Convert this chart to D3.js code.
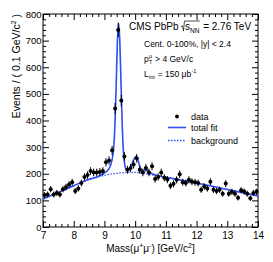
<!DOCTYPE html>
<html><head><meta charset="utf-8">
<script src="https://cdnjs.cloudflare.com/ajax/libs/d3/7.8.5/d3.min.js"></script>
<style>
html,body{margin:0;padding:0;background:#fff;}
svg{display:block;font-family:"Liberation Sans",Arial,Helvetica,sans-serif;}
</style></head>
<body><svg id="c" width="273" height="262"></svg>
<script>
// ---- data ----
const dataMass = [7.05,7.15,7.25,7.35,7.45,7.55,7.65,7.75,7.85,7.95,
  8.05,8.15,8.25,8.35,8.45,8.55,8.65,8.75,8.85,8.95,
  9.05,9.15,9.25,9.35,9.45,9.55,9.65,9.75,9.85,9.95,
  10.05,10.15,10.25,10.35,10.45,10.55,10.65,10.75,10.85,10.95,
  11.05,11.15,11.25,11.35,11.45,11.55,11.65,11.75,11.85,11.95,
  12.05,12.15,12.25,12.35,12.45,12.55,12.65,12.75,12.85,12.95,
  13.05,13.15,13.25,13.35,13.45,13.55,13.65,13.75,13.85,13.95];
const dataCounts = [120,122,142,122,128,122,142,150,160,168,
  135,145,165,188,195,210,205,205,207,210,
  243,250,288,445,740,475,265,215,222,235,
  258,215,205,222,205,228,180,188,205,185,
  178,155,162,177,198,168,165,177,170,168,
  165,140,152,145,170,140,135,140,125,163,
  125,132,125,110,138,133,125,108,128,132];
const fitMass = [7.0,7.5,8.0,8.5,8.8,9.0,9.1,9.2,9.26,9.3,9.34,9.38,9.42,9.46,9.5,9.54,9.58,9.62,9.66,9.7,
  9.76,9.82,9.88,9.94,10.0,10.03,10.06,10.1,10.15,10.2,10.26,10.32,10.36,10.4,10.46,10.55,10.7,11.0,12.0,13.0,14.0];
const fitVals = [105,130,155,179,190,203,212,232,260,295,380,520,690,765,700,540,380,280,235,218,
  213,218,230,250,262,265,262,248,228,215,212,214,216,214,207,200,194,187,165,141,117];
const bgMass = [7.0,7.5,8.0,8.5,9.0,9.5,9.75,10.0,10.25,10.5,11.0,12.0,13.0,14.0];
const bgVals = [105,130,155,178,194,203,205,205,202,197,187,165,141,117];
const xTicks = [7,8,9,10,11,12,13,14];
const yTicks = [0,100,200,300,400,500,600,700,800];

// ---- layout ----
const svg = d3.select("#c");
const L = 43, R = 258, T = 14, B = 227;
const x = d3.scaleLinear().domain([7,14]).range([L,R]);
const y = d3.scaleLinear().domain([0,800]).range([B,T]);
const blue = "#2f4ff0";

// minor ticks
const xMinor = d3.range(7,14.001,0.2).filter(v=>Math.abs(v-Math.round(v))>1e-6);
const yMinor = d3.range(0,800.1,20).filter(v=>v%100!==0);

function axis(gen, tr, vals, size, labels, fs){
  const g = svg.append("g").attr("transform",tr)
    .call(gen.tickValues(vals).tickSize(size).tickPadding(labels?3:0)
      .tickFormat(labels? d3.format("d") : ()=>""));
  g.select(".domain").remove();
  g.selectAll("line").attr("stroke","#000").attr("stroke-width",1);
  g.selectAll("text").attr("font-size",fs).attr("fill","#000");
  return g;
}
const gx = axis(d3.axisBottom(x), `translate(0,${B})`, xTicks, -6, true, 10);
gx.selectAll("text").attr("y",5);
axis(d3.axisBottom(x), `translate(0,${B})`, xMinor, -3, false);
axis(d3.axisTop(x), `translate(0,${T})`, xTicks, -6, false);
axis(d3.axisTop(x), `translate(0,${T})`, xMinor, -3, false);
const gy = axis(d3.axisLeft(y), `translate(${L},0)`, yTicks, -6, true, 9.5);
gy.selectAll("text").attr("x",-1.5);
axis(d3.axisLeft(y), `translate(${L},0)`, yMinor, -3, false);
axis(d3.axisRight(y), `translate(${R},0)`, yTicks, -6, false);
axis(d3.axisRight(y), `translate(${R},0)`, yMinor, -3, false);

// frame
svg.append("rect").attr("x",L).attr("y",T).attr("width",R-L).attr("height",B-T)
  .attr("fill","none").attr("stroke","#000").attr("stroke-width",1);

// curves
const line = d3.line().x(d=>x(d[0])).y(d=>y(d[1])).curve(d3.curveMonotoneX);
svg.append("path").datum(d3.zip(bgMass,bgVals)).attr("d",line)
  .attr("fill","none").attr("stroke",blue).attr("stroke-width",1.3).attr("stroke-dasharray","1.5,1.5");
svg.append("path").datum(d3.zip(fitMass,fitVals)).attr("d",line)
  .attr("fill","none").attr("stroke",blue).attr("stroke-width",1.6);

// data points
const pts = svg.append("g");
dataMass.forEach((m,i)=>{
  const v = dataCounts[i], e = Math.sqrt(v);
  pts.append("line").attr("x1",x(m)).attr("x2",x(m)).attr("y1",y(v-e)).attr("y2",y(v+e))
    .attr("stroke","#000").attr("stroke-width",1);
  pts.append("line").attr("x1",x(m-0.05)).attr("x2",x(m+0.05)).attr("y1",y(v)).attr("y2",y(v))
    .attr("stroke","#000").attr("stroke-width",1);
  pts.append("circle").attr("cx",x(m)).attr("cy",y(v)).attr("r",2).attr("fill","#000");
});

// axis titles
svg.append("text").attr("transform",`translate(20,${T}) rotate(-90)`).attr("text-anchor","end")
  .attr("font-size",10.5)
  .html('Events / ( 0.1 GeV/c<tspan font-size="7" dy="-4">2</tspan><tspan dy="4"> )</tspan>');
svg.append("text").attr("x",(L+R)/2).attr("y",252).attr("text-anchor","middle").attr("font-size",10)
  .html('Mass(μ<tspan font-size="7" dy="-4">+</tspan><tspan dy="4">μ</tspan><tspan font-size="7" dy="-4">-</tspan><tspan dy="4">) [GeV/c</tspan><tspan font-size="7" dy="-4">2</tspan><tspan dy="4">]</tspan>');

// CMS label with sqrt
const cy0 = 30;
const t1 = svg.append("text").attr("x",129).attr("y",cy0).attr("font-size",10).text("CMS PbPb");
let cx = 129 + t1.node().getComputedTextLength() + 2.5;
const rx = cx;
const t2 = svg.append("text").attr("x",cx+4).attr("y",cy0).attr("font-size",10)
  .html('s<tspan font-size="6.5" dy="2.5">NN</tspan>');
const w2 = t2.node().getComputedTextLength();
svg.append("path").attr("d",`M${rx},${cy0-3.5} L${rx+1.5},${cy0-4.2} L${rx+2.5},${cy0+1} L${rx+3.5},${cy0-9} L${rx+4+w2+0.5},${cy0-9}`)
  .attr("fill","none").attr("stroke","#000").attr("stroke-width",0.7);
svg.append("text").attr("x",rx+4+w2+1).attr("y",cy0).attr("font-size",10).text(" = 2.76 TeV")
  .attr("xml:space","preserve").style("white-space","pre");

svg.append("text").attr("x",144).attr("y",46.5).attr("font-size",8.5).text("Cent. 0-100%, |y| < 2.4");
// p_T^mu
const pt = svg.append("text").attr("x",144).attr("y",62).attr("font-size",8.5).text("p");
const pw = pt.node().getComputedTextLength();
svg.append("text").attr("x",144+pw+0.3).attr("y",58).attr("font-size",5.5).text("μ");
svg.append("text").attr("x",144+pw+0.3).attr("y",64).attr("font-size",5.5).text("T");
svg.append("text").attr("x",144+pw+4).attr("y",62).attr("font-size",8.5).text(" > 4 GeV/c").style("white-space","pre");
// L_int
const lt = svg.append("text").attr("x",144).attr("y",76.5).attr("font-size",8.5).text("L");
const lw = lt.node().getComputedTextLength();
const lsub = svg.append("text").attr("x",144+lw+0.3).attr("y",78.5).attr("font-size",5.5).text("int");
const lsw = lsub.node().getComputedTextLength();
const lm = svg.append("text").attr("x",144+lw+lsw+0.8).attr("y",76.5).attr("font-size",8.5).text(" = 150 μb").style("white-space","pre");
const lmw = lm.node().getComputedTextLength();
svg.append("text").attr("x",144+lw+lsw+0.8+lmw+0.3).attr("y",72.5).attr("font-size",5.5).text("-1");

// legend
svg.append("circle").attr("cx",177).attr("cy",116.5).attr("r",1.9).attr("fill","#000");
svg.append("text").attr("x",191).attr("y",119.5).attr("font-size",9).text("data");
svg.append("line").attr("x1",168).attr("x2",186).attr("y1",127.5).attr("y2",127.5).attr("stroke",blue).attr("stroke-width",1.6);
svg.append("text").attr("x",191).attr("y",130.5).attr("font-size",9).text("total fit");
svg.append("line").attr("x1",168).attr("x2",186).attr("y1",140.5).attr("y2",140.5).attr("stroke",blue).attr("stroke-width",1.3).attr("stroke-dasharray","1.5,1.5");
svg.append("text").attr("x",191).attr("y",143.5).attr("font-size",9).text("background");
</script></body></html>
